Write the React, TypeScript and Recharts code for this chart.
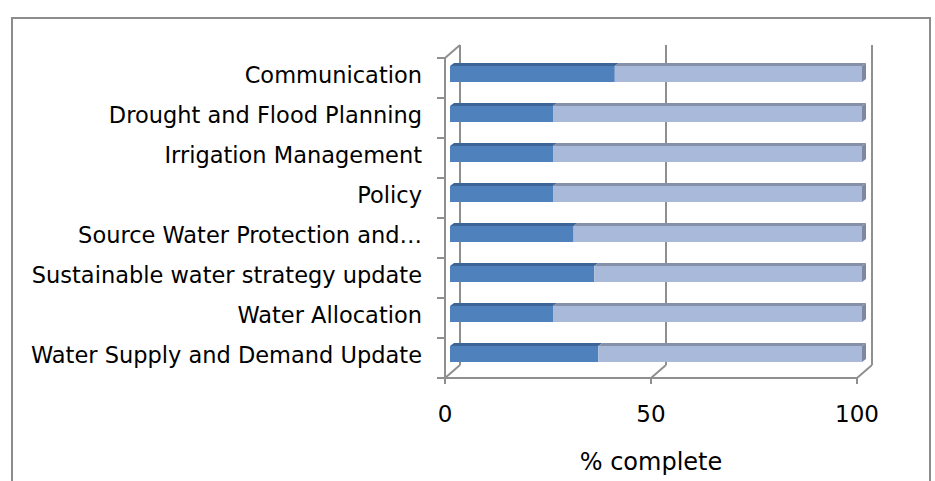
import React from "react";
import {
  BarChart,
  Bar,
  XAxis,
  YAxis,
  CartesianGrid,
} from "recharts";

const categories = [
  "Communication",
  "Drought and Flood Planning",
  "Irrigation Management",
  "Policy",
  "Source Water Protection and…",
  "Sustainable water strategy update",
  "Water Allocation",
  "Water Supply and Demand Update",
];
const complete = [40, 25, 25, 25, 30, 35, 25, 36];
const remaining = [60, 75, 75, 75, 70, 65, 75, 64];
const xTicks = [0, 50, 100];

const data = categories.map((name, i) => ({
  name,
  complete: complete[i],
  remaining: remaining[i],
}));

const FONT = "'DejaVu Sans', sans-serif";
const AXIS = "#8f8f8f";
// 3d offsets (back wall, bar position inside the depth, bar depth)
const WALL_DX = 15;
const WALL_DY = -13;
const BAR_DX = 5;
const BAR_DY = -4;
const DEPTH_DX = 4;
const DEPTH_DY = -3;

function bar3d(front: string, top: string, side: string | null) {
  return (props: any) => {
    const { x, y, width, height } = props;
    if (width == null || width <= 0) return <g />;
    const fx = x + BAR_DX;
    const fy = y + BAR_DY;
    const topPts = `${fx},${fy} ${fx + width},${fy} ${fx + width + DEPTH_DX},${fy + DEPTH_DY} ${fx + DEPTH_DX},${fy + DEPTH_DY}`;
    return (
      <g>
        <polygon points={topPts} fill={top} />
        {side && (
          <polygon
            points={`${fx + width},${fy} ${fx + width + DEPTH_DX},${fy + DEPTH_DY} ${fx + width + DEPTH_DX},${fy + height + DEPTH_DY} ${fx + width},${fy + height}`}
            fill={side}
          />
        )}
        <rect x={fx} y={fy} width={width} height={height} fill={front} />
      </g>
    );
  };
}

const doneShape = bar3d("#4f81bd", "#3d6597", null);
const restShape = bar3d("#a8b9d9", "#8591a9", "#7d89a1");

function wallLine(p: any) {
  const { x1, y1, y2, index } = p;
  return (
    <g key={`wall-${index}`} stroke={AXIS} strokeWidth={2} fill="none">
      <line x1={x1 + WALL_DX} y1={y1 + WALL_DY} x2={x1 + WALL_DX} y2={y2 + WALL_DY} />
      <line x1={x1} y1={y2} x2={x1 + WALL_DX} y2={y2 + WALL_DY} />
      {index === 0 && (
        <line x1={x1} y1={y1} x2={x1 + WALL_DX} y2={y1 + WALL_DY} />
      )}
    </g>
  );
}

const LABEL_GAP = 23;

function CategoryTick(props: any) {
  const { x, y, payload, index, visibleTicksCount } = props;
  const ax = x + LABEL_GAP;
  const half = payload && payload.offset ? payload.offset : 20;
  return (
    <g>
      <line x1={ax - 8} y1={y - half} x2={ax} y2={y - half} stroke={AXIS} strokeWidth={2} />
      {index === visibleTicksCount - 1 && (
        <line x1={ax - 8} y1={y + half} x2={ax} y2={y + half} stroke={AXIS} strokeWidth={2} />
      )}
      <text
        x={x}
        y={y - 3}
        dy="0.36em"
        textAnchor="end"
        fill="#000"
        fontSize={22.5}
        fontFamily={FONT}
      >
        {payload.value}
      </text>
    </g>
  );
}

export default function App() {
  return (
    <div style={{ position: "absolute", left: 0, top: 0, width: 935, height: 481, background: "#fff" }}>
      <div
        style={{
          position: "absolute",
          left: 11,
          top: 17,
          width: 920,
          height: 470,
          borderTop: "2px solid #8c8c8c",
          borderLeft: "2px solid #8c8c8c",
          borderRight: "2px solid #8c8c8c",
          boxSizing: "border-box",
        }}
      />
      <div style={{ position: "absolute", left: 0, top: 0 }}>
        <BarChart
          width={935}
          height={481}
          data={data}
          layout="vertical"
          margin={{ top: 58, right: 78, bottom: 0, left: 0 }}
          barSize={16}
        >
          <CartesianGrid horizontal={false} vertical={wallLine} />
          <XAxis
            type="number"
            domain={[0, 100]}
            ticks={xTicks}
            height={103}
            axisLine={{ stroke: AXIS, strokeWidth: 2 }}
            tickLine={{ stroke: AXIS, strokeWidth: 2 }}
            tickSize={6}
            tickMargin={22}
            tick={{ fill: "#000", fontSize: 23, fontFamily: FONT }}
            label={{
              value: "% complete",
              position: "insideBottom",
              offset: 11,
              fill: "#000",
              fontSize: 24,
              fontFamily: FONT,
            }}
          />
          <YAxis
            type="category"
            dataKey="name"
            width={445}
            axisLine={{ stroke: AXIS, strokeWidth: 2 }}
            tickLine={false}
            tickSize={0}
            tickMargin={LABEL_GAP}
            interval={0}
            tick={<CategoryTick />}
          />
          <Bar dataKey="complete" stackId="a" fill="#4f81bd" shape={doneShape} isAnimationActive={false} />
          <Bar dataKey="remaining" stackId="a" fill="#a8b9d9" shape={restShape} isAnimationActive={false} />
        </BarChart>
      </div>
    </div>
  );
}
